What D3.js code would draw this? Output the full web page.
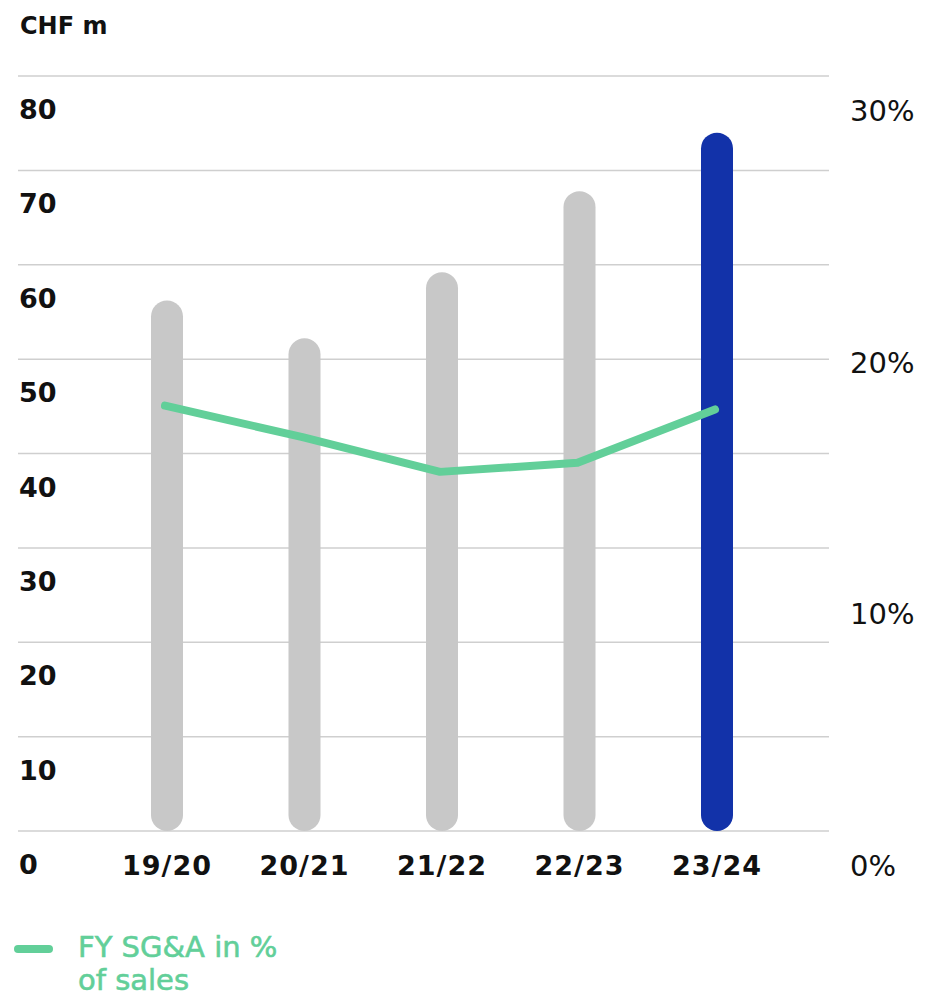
<!DOCTYPE html>
<html>
<head>
<meta charset="utf-8">
<script src="https://cdn.jsdelivr.net/npm/d3@7/dist/d3.min.js"></script>
<style>
  html, body { margin: 0; padding: 0; background: #fff; }
  svg { display: block; }
  text { font-family: "DejaVu Sans", sans-serif; }
</style>
</head>
<body>
<svg id="chart" width="925" height="998"></svg>
<script>
const categories = ["19/20", "20/21", "21/22", "22/23", "23/24"];
const sgaValues = [56.2, 52.2, 59.2, 67.8, 74.0];          // CHF m
const sgaPercent = [16.9, 15.65, 14.27, 14.63, 16.75];     // % of sales
const leftTicks = [0, 10, 20, 30, 40, 50, 60, 70, 80];
const rightTicks = [0, 10, 20, 30];
const unitLabel = "CHF m";
const legendLines = ["FY SG&A in %", "of sales"];

const svg = d3.select("#chart");
const yTop = 76, yBottom = 831;

const x = d3.scalePoint().domain(categories).range([167, 717]);
const yLeft = d3.scaleLinear().domain([0, 80]).range([yBottom, yTop]);
const yRight = d3.scaleLinear().domain([0, 30]).range([yBottom, yTop]);

const gray = "#c8c8c8", blue = "#1232a9", green = "#62cf99";

// gridlines
svg.append("g").selectAll("line").data(leftTicks).join("line")
  .attr("x1", 18).attr("x2", 829)
  .attr("y1", d => yLeft(d)).attr("y2", d => yLeft(d))
  .attr("stroke", "#cfcfcf").attr("stroke-width", 1.5);

// unit label
svg.append("text").attr("x", 20).attr("y", 34)
  .attr("font-size", 24).attr("font-weight", "bold").attr("fill", "#111")
  .text(unitLabel);

// left axis labels
svg.append("g").selectAll("text").data(leftTicks).join("text")
  .attr("x", 19).attr("y", d => yLeft(d) + 43)
  .attr("font-size", 27).attr("font-weight", "bold").attr("fill", "#111")
  .text(d => d);

// right axis labels
svg.append("g").selectAll("text").data(rightTicks).join("text")
  .attr("x", 850).attr("y", d => yRight(d) + 45)
  .attr("font-size", 29).attr("fill", "#111")
  .text(d => d + "%");

// category labels
svg.append("g").selectAll("text").data(categories).join("text")
  .attr("x", d => x(d)).attr("y", 875)
  .attr("text-anchor", "middle")
  .attr("font-size", 27).attr("font-weight", "bold").attr("fill", "#111")
  .attr("letter-spacing", 1)
  .text(d => d);

// bars
const bw = 32;
svg.append("g").selectAll("rect").data(categories).join("rect")
  .attr("x", d => x(d) - bw / 2)
  .attr("width", bw)
  .attr("y", (d, i) => yLeft(sgaValues[i]))
  .attr("height", (d, i) => yLeft(0) - yLeft(sgaValues[i]))
  .attr("rx", bw / 2).attr("ry", bw / 2)
  .attr("fill", (d, i) => i === categories.length - 1 ? blue : gray);

// line
const line = d3.line()
  .x((d, i) => x(categories[i]) - 2)
  .y(d => yRight(d));
svg.append("path").datum(sgaPercent)
  .attr("d", line)
  .attr("fill", "none").attr("stroke", green)
  .attr("stroke-width", 8)
  .attr("stroke-linecap", "round").attr("stroke-linejoin", "round");

// legend
svg.append("line").attr("x1", 18).attr("x2", 49).attr("y1", 949).attr("y2", 949)
  .attr("stroke", green).attr("stroke-width", 8).attr("stroke-linecap", "round");
svg.append("g").selectAll("text").data(legendLines).join("text")
  .attr("x", 78).attr("y", (d, i) => 957 + i * 33)
  .attr("font-size", 29).attr("fill", green)
  .attr("stroke", green).attr("stroke-width", 0.6)
  .text(d => d);
</script>
</body>
</html>
